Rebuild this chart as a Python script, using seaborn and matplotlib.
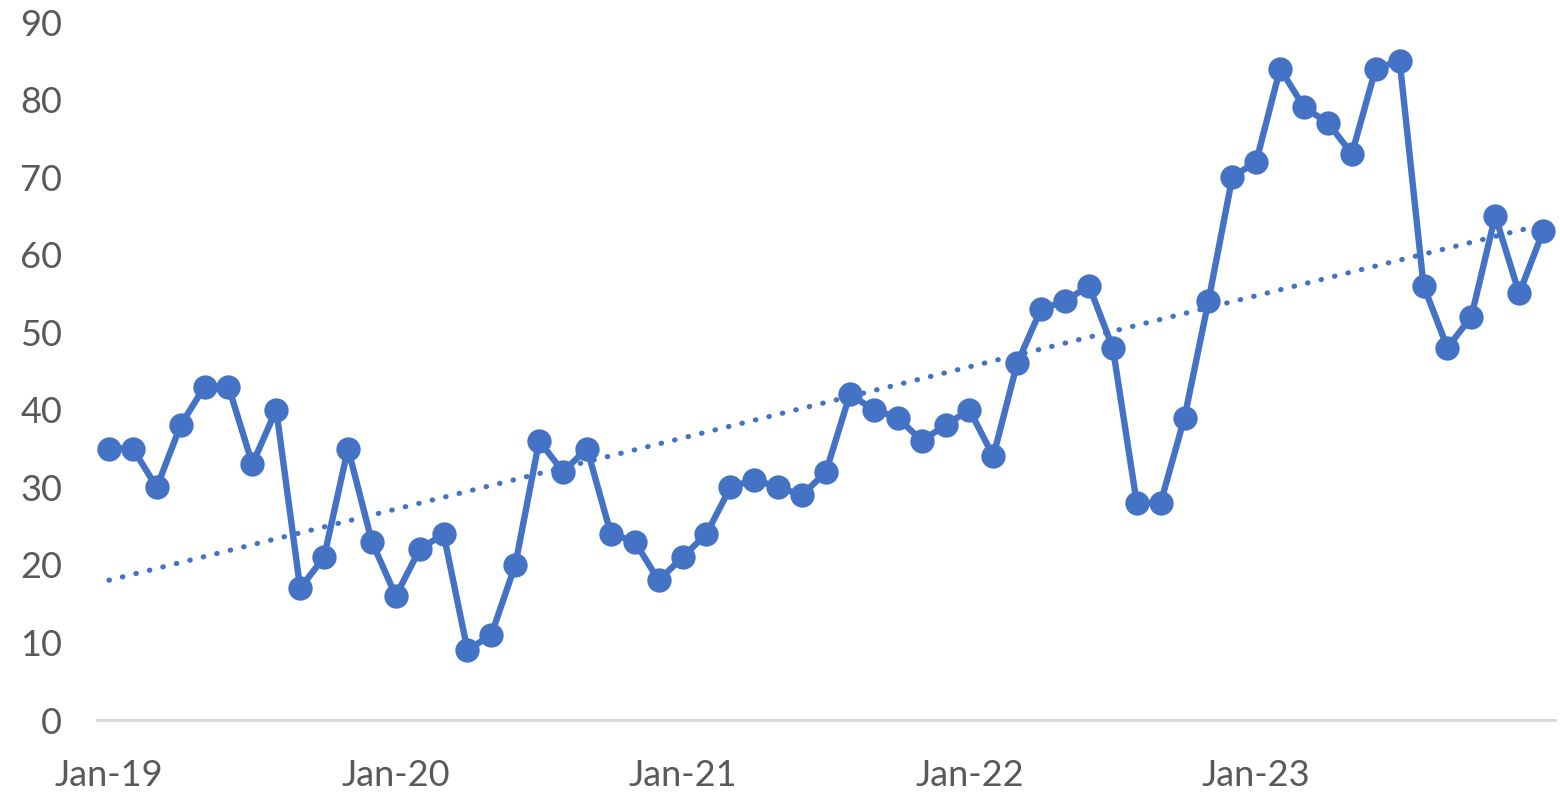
import matplotlib
matplotlib.use("Agg")
import matplotlib.pyplot as plt
import seaborn as sns
import numpy as np
import pandas as pd

# ---- data (monthly, Jan-19 .. Jan-24) ----
values = [35, 35, 30, 38, 43, 43, 33, 40, 17, 21, 35, 23,
          16, 22, 24, 9, 11, 20, 36, 32, 35, 24, 23, 18,
          21, 24, 30, 31, 30, 29, 32, 42, 40, 39, 36, 38,
          40, 34, 46, 53, 54, 56, 48, 28, 28, 39, 54, 70,
          72, 84, 79, 77, 73, 84, 85, 56, 48, 52, 65, 55,
          63]
tick_labels = ["Jan-19", "Jan-20", "Jan-21", "Jan-22", "Jan-23"]
tick_positions = [0, 12, 24, 36, 48]
y_ticks = [0, 10, 20, 30, 40, 50, 60, 70, 80, 90]

df = pd.DataFrame({"month": np.arange(len(values)), "value": values})

BLUE = "#4472C4"
GREY_TEXT = "#595959"
AXIS_GREY = "#D9D9D9"

sns.set_theme(style="white")
plt.rcParams["font.family"] = ["Lato", "DejaVu Sans"]

fig = plt.figure(figsize=(15.6, 7.92), dpi=100)
ax = fig.add_axes([97 / 1560, 1 - 720 / 792, (1555 - 97) / 1560, (720 - 22) / 792])

# trend line (linear fit computed by seaborn)
sns.regplot(data=df, x="month", y="value", ax=ax, scatter=False, ci=None,
            truncate=True, color=BLUE,
            line_kws=dict(linestyle=(0, (0.1, 2.6)), linewidth=3.7,
                          dash_capstyle="round", zorder=3))

# main series
sns.lineplot(data=df, x="month", y="value", ax=ax, color=BLUE,
             linewidth=4.6, marker="o", markersize=17.5,
             markeredgewidth=0, markeredgecolor=BLUE, zorder=2)

ax.set_xlim(-0.5, len(values) - 0.5)
ax.set_ylim(0, 90)
ax.set_yticks(y_ticks)
ax.set_yticklabels([str(t) for t in y_ticks])
ax.set_xticks(tick_positions)
ax.set_xticklabels(tick_labels)
ax.set_xlabel("")
ax.set_ylabel("")

for s in ["left", "right", "top"]:
    ax.spines[s].set_visible(False)
ax.spines["bottom"].set_color(AXIS_GREY)
ax.spines["bottom"].set_linewidth(2.2)
ax.grid(False)

ax.tick_params(axis="y", length=0, pad=25, labelsize=26, labelcolor=GREY_TEXT)
ax.tick_params(axis="x", length=0, pad=28, labelsize=26, labelcolor=GREY_TEXT)

fig.savefig("out.png", dpi=100, facecolor="white")
